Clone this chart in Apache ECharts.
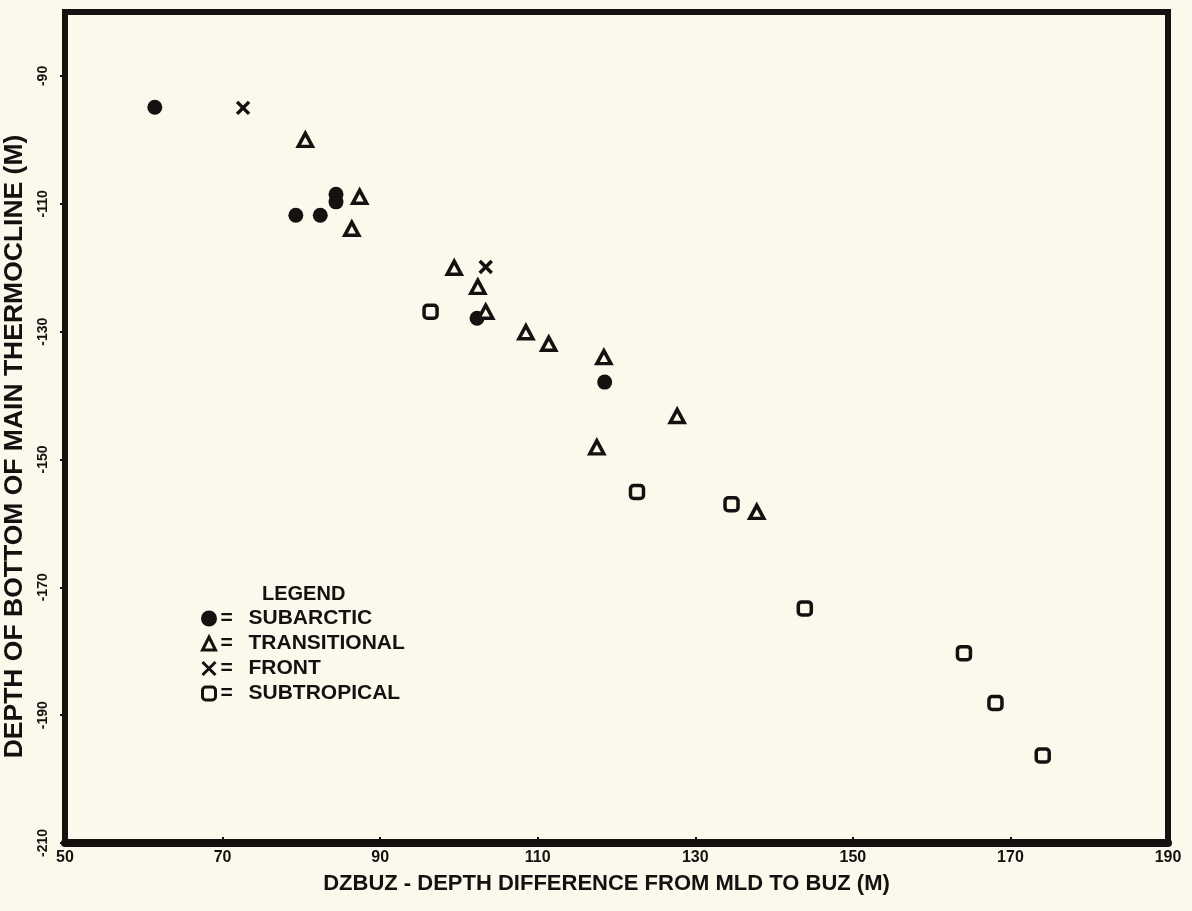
<!DOCTYPE html>
<html>
<head>
<meta charset="utf-8">
<script src="https://cdn.jsdelivr.net/npm/echarts@6/dist/echarts.min.js"></script>
<style>
  html, body { margin: 0; padding: 0; background: #fbf9ec; }
  #chart { width: 1192px; height: 911px; }
</style>
</head>
<body>
<div id="chart"></div>
<script>
// ---- data ----
const seriesNames = ['SUBARCTIC', 'TRANSITIONAL', 'FRONT', 'SUBTROPICAL'];
const subarctic = [[61.4,-94.9],[79.3,-111.8],[82.4,-111.8],[84.4,-108.5],[84.4,-109.7],[102.3,-127.9],[118.5,-137.9]];
const transitional = [[80.5,-100.0],[87.4,-108.9],[86.4,-113.9],[99.4,-120.0],[102.4,-123.0],[103.4,-126.9],[108.5,-130.1],[111.4,-131.9],[118.4,-134.0],[127.7,-143.2],[117.5,-148.1],[137.8,-158.2]];
const front = [[72.6,-95.0],[103.4,-119.9]];
const subtropical = [[96.4,-126.9],[122.6,-155.1],[134.6,-157.0],[143.9,-173.3],[164.1,-180.3],[168.1,-188.1],[174.1,-196.3]];
const xTitle = 'DZBUZ - DEPTH DIFFERENCE FROM MLD TO BUZ (M)';
const yTitle = 'DEPTH OF BOTTOM OF MAIN THERMOCLINE (M)';
const legendTitle = 'LEGEND';

const ink = '#141110';
const paper = '#fbf9ec';
const font = '"Liberation Sans", Arial, sans-serif';

const chart = echarts.init(document.getElementById('chart'), null, { renderer: 'canvas' });
chart.setOption({
  backgroundColor: paper,
  animation: false,
  textStyle: { fontFamily: font, color: ink },
  title: {
    text: legendTitle, left: 262, top: 584, padding: 0,
    textStyle: { fontSize: 20, fontWeight: 'bold', color: ink, fontFamily: font }
  },
  legend: {
    orient: 'vertical', left: 200, top: 608, padding: 0,
    itemWidth: 13, itemHeight: 13, itemGap: 4, itemTextGap: 9,
    data: seriesNames,
    itemStyle: { borderWidth: 3, borderColor: ink },
    formatter: name => '{e|=}' + name,
    textStyle: {
      fontSize: 21, fontWeight: 'bold', color: ink, fontFamily: font, lineHeight: 18,
      rich: { e: { width: 28, fontSize: 21, fontWeight: 'bold', color: ink, lineHeight: 18 } }
    }
  },
  grid: {
    left: 65, right: 24, top: 12, bottom: 68,
    containLabel: false, outerBoundsMode: 'none',
    show: true, borderColor: ink, borderWidth: 6, backgroundColor: 'transparent'
  },
  xAxis: {
    type: 'value', min: 50, max: 190, interval: 20,
    name: xTitle, nameLocation: 'middle', nameGap: 30,
    nameTextStyle: { fontSize: 22, fontWeight: 'bold', color: ink, fontFamily: font, padding: [0, 20, 0, 0] },
    axisLine: { show: true, onZero: false, lineStyle: { color: ink, width: 8 } },
    axisTick: { show: true, inside: true, length: 6, lineStyle: { color: ink, width: 2 } },
    axisLabel: { fontSize: 16, fontWeight: 'bold', color: ink, margin: 7, fontFamily: font },
    splitLine: { show: false }
  },
  yAxis: {
    type: 'value', min: -210, max: -80, interval: 20,
    name: yTitle, nameLocation: 'middle', nameGap: 29,
    nameTextStyle: { fontSize: 26.5, fontWeight: 'bold', color: ink, fontFamily: font, padding: [0, 38, 0, 0] },
    axisLine: { show: true, onZero: false, lineStyle: { color: ink, width: 6 } },
    axisTick: { show: true, inside: false, length: 5, lineStyle: { color: ink, width: 2 } },
    axisLabel: { rotate: 90, fontSize: 14, fontWeight: 'bold', color: ink, margin: 15, fontFamily: font, showMaxLabel: false },
    splitLine: { show: false }
  },
  series: [
    {
      name: seriesNames[0], type: 'scatter', data: subarctic,
      symbol: 'circle', symbolSize: 15,
      itemStyle: { color: ink, opacity: 1, borderWidth: 0 }
    },
    {
      name: seriesNames[1], type: 'scatter', data: transitional,
      symbol: 'triangle', symbolSize: [14, 13],
      itemStyle: { color: paper, borderColor: ink, borderWidth: 3.5, opacity: 1 }
    },
    {
      name: seriesNames[2], type: 'scatter', data: front,
      symbol: 'path://M0,0L10,10M10,0L0,10', symbolSize: 12,
      itemStyle: { color: 'none', borderColor: ink, borderWidth: 3.5, opacity: 1 }
    },
    {
      name: seriesNames[3], type: 'scatter', data: subtropical,
      symbol: 'roundRect', symbolSize: 13,
      itemStyle: { color: paper, borderColor: ink, borderWidth: 3.5, opacity: 1 }
    }
  ]
});
</script>
</body>
</html>
